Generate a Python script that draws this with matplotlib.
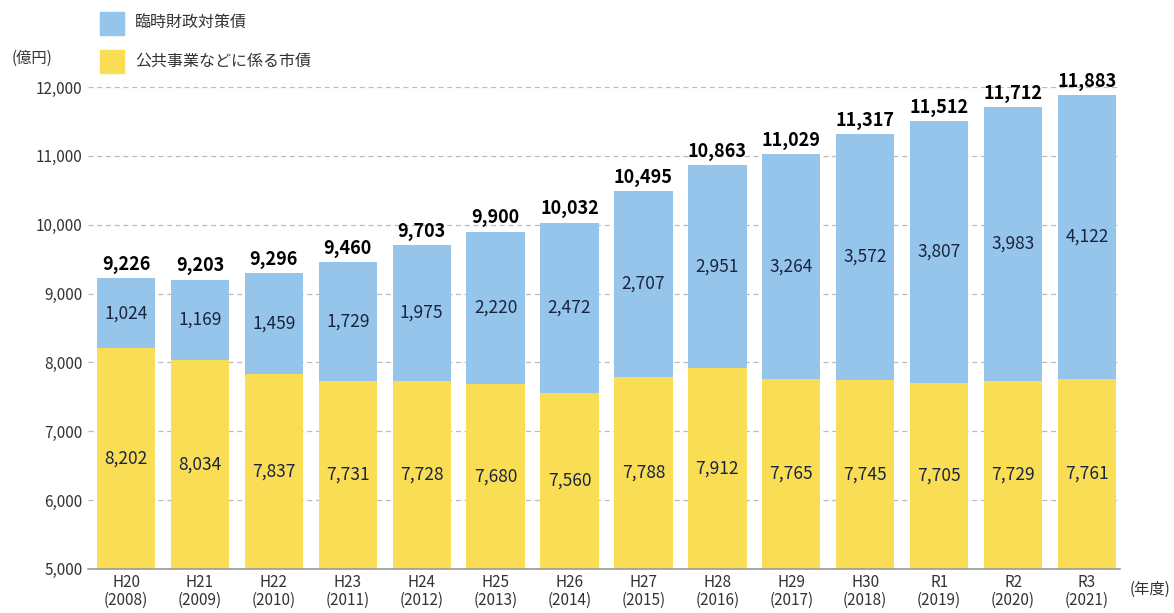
import matplotlib
matplotlib.use("Agg")
import matplotlib.pyplot as plt
from matplotlib.patches import Rectangle
import numpy as np

plt.rcParams['font.family'] = ['Noto Sans CJK JP', 'DejaVu Sans']

# data
years = ["H20\n(2008)", "H21\n(2009)", "H22\n(2010)", "H23\n(2011)", "H24\n(2012)",
         "H25\n(2013)", "H26\n(2014)", "H27\n(2015)", "H28\n(2016)", "H29\n(2017)",
         "H30\n(2018)", "R1\n(2019)", "R2\n(2020)", "R3\n(2021)"]
public_works = [8202, 8034, 7837, 7731, 7728, 7680, 7560, 7788, 7912, 7765, 7745, 7705, 7729, 7761]
temp_fiscal = [1024, 1169, 1459, 1729, 1975, 2220, 2472, 2707, 2951, 3264, 3572, 3807, 3983, 4122]
totals = [9226, 9203, 9296, 9460, 9703, 9900, 10032, 10495, 10863, 11029, 11317, 11512, 11712, 11883]
yticks = [5000, 6000, 7000, 8000, 9000, 10000, 11000, 12000]

blue = "#95c5ea"
yellow = "#f9dd55"
ymin = 5000

fig = plt.figure(figsize=(11.74, 6.13), dpi=100)
ax = fig.add_axes([0.075, 0.072, 0.879, 0.786])

x = np.arange(len(years))
w = 0.79
ax.bar(x, public_works, w, color=yellow, zorder=2)
ax.bar(x, temp_fiscal, w, bottom=public_works, color=blue, zorder=2)

for i in x:
    pw = public_works[i]
    tf = temp_fiscal[i]
    ax.text(i, (ymin + pw) / 2, f"{pw:,}", ha="center", va="center",
            fontsize=12.5, color="#1a2440", zorder=3)
    ax.text(i, pw + tf / 2, f"{tf:,}", ha="center", va="center",
            fontsize=12.5, color="#1a2440", zorder=3)
    ax.text(i, totals[i] + 60, f"{totals[i]:,}", ha="center", va="bottom",
            fontsize=13, fontweight="bold", color="black", zorder=3)

ax.set_ylim(ymin, 12000)
ax.set_xlim(-0.514, len(years) - 0.553)
ax.set_yticks(yticks)
ax.set_yticklabels([f"{v:,}" for v in yticks], fontsize=11, color="#333333")
ax.set_xticks(x)
ax.set_xticklabels(years, fontsize=11, color="#333333", linespacing=1.0)
ax.tick_params(axis="both", length=0, pad=4)
ax.yaxis.grid(True, linestyle=(0, (4, 3)), color="#bbbbbb", linewidth=0.9, zorder=0)
for s in ["top", "right", "left"]:
    ax.spines[s].set_visible(False)
ax.spines["bottom"].set_color("#999999")
ax.spines["bottom"].set_linewidth(1.2)

fig.text(0.010, 0.905, "(億円)", fontsize=11, color="#333333", va="center")
fig.text(0.962, 0.038, "(年度)", fontsize=11, color="#333333", va="center")

# legend
for yy, col, lab in [(0.962, blue, "臨時財政対策債"), (0.900, yellow, "公共事業などに係る市債")]:
    fig.patches.append(Rectangle((0.085, yy - 0.019), 0.021, 0.038, color=col,
                                 transform=fig.transFigure))
    fig.text(0.115, yy, lab, fontsize=11.5, color="#333333", va="center")

fig.savefig("out.png", dpi=100, facecolor="white")
